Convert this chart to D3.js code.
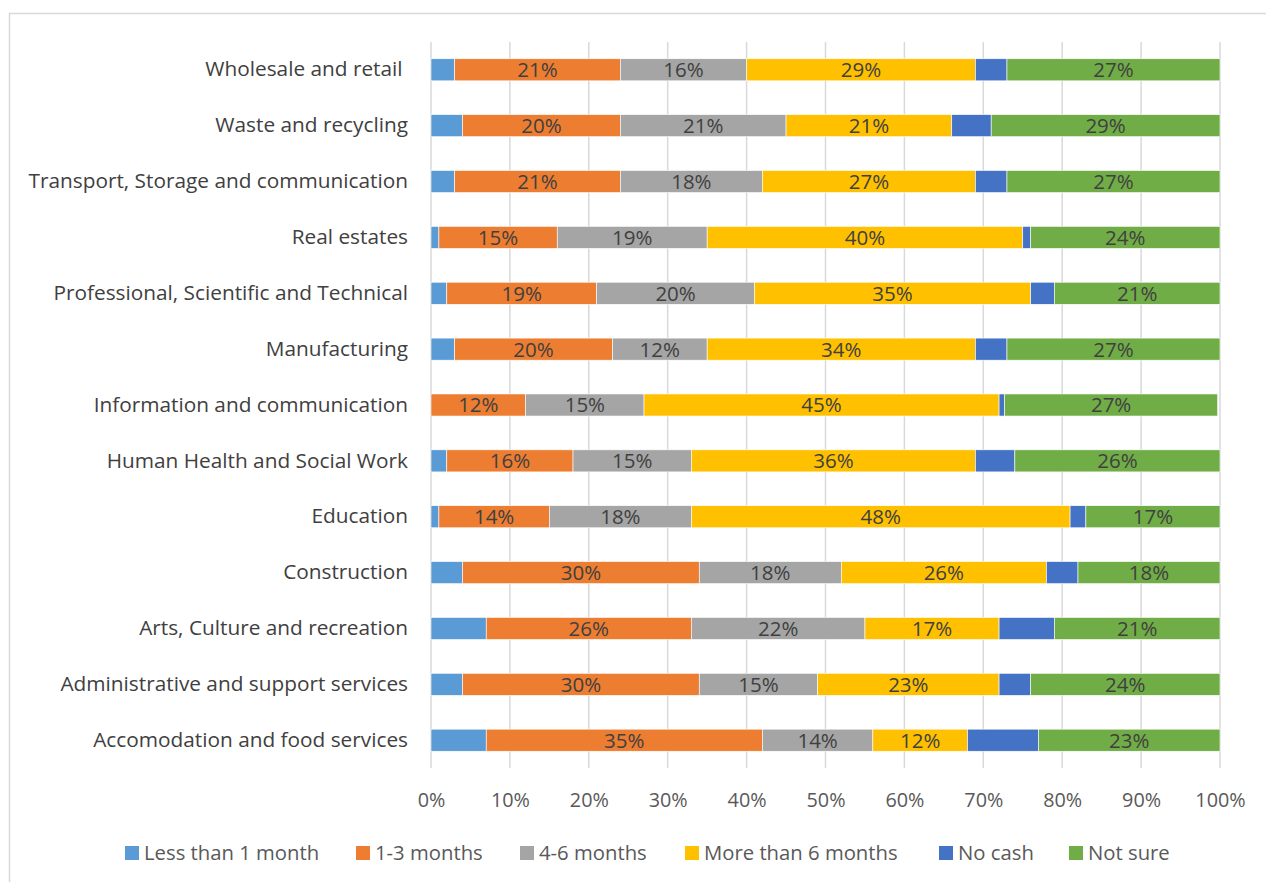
<!DOCTYPE html>
<html>
<head>
<meta charset="utf-8">
<script src="https://cdn.jsdelivr.net/npm/d3@7"></script>
<style>
  html, body { margin: 0; padding: 0; background: #fff; }
  svg { display: block; }
  text { font-family: "Open Sans", "Noto Sans", sans-serif; }
</style>
</head>
<body>
<svg id="chart" width="1266" height="882"></svg>
<script>
// Sectors, listed top to bottom
const categories = [
  "Wholesale and retail ",
  "Waste and recycling",
  "Transport, Storage and communication",
  "Real estates",
  "Professional, Scientific and Technical",
  "Manufacturing",
  "Information and communication",
  "Human Health and Social Work",
  "Education",
  "Construction",
  "Arts, Culture and recreation",
  "Administrative and support services",
  "Accomodation and food services"
];

const seriesNames = ["Less than 1 month", "1-3 months", "4-6 months", "More than 6 months", "No cash", "Not sure"];

// Share of businesses (%) per sector, one array per series, same order as categories
const lessThan1Month = [3, 4, 3, 1, 2, 3, 0, 2, 1, 4, 7, 4, 7];
const oneToThree     = [21, 20, 21, 15, 19, 20, 12, 16, 14, 30, 26, 30, 35];
const fourToSix      = [16, 21, 18, 19, 20, 12, 15, 15, 18, 18, 22, 15, 14];
const moreThanSix    = [29, 21, 27, 40, 35, 34, 45, 36, 48, 26, 17, 23, 12];
const noCash         = [4, 5, 4, 1, 3, 4, 0.7, 5, 2, 4, 7, 4, 9];
const notSure        = [27, 29, 27, 24, 21, 27, 27, 26, 17, 18, 21, 24, 23];

const seriesValues = [lessThan1Month, oneToThree, fourToSix, moreThanSix, noCash, notSure];
const labelledSeries = [false, true, true, true, false, true];
const colors = ["#5b9bd5", "#ed7d31", "#a5a5a5", "#ffc000", "#4472c4", "#70ad47"];

const xTicks = [0, 10, 20, 30, 40, 50, 60, 70, 80, 90, 100];

const FONT = "'Open Sans', 'Noto Sans', sans-serif";
const svg = d3.select("#chart");

// Chart frame
svg.append("rect")
  .attr("x", 9.5).attr("y", 13.5)
  .attr("width", 1262).attr("height", 880)
  .attr("fill", "#fff")
  .attr("stroke", "#d9d9d9").attr("stroke-width", 1.5);

const plot = { left: 431, right: 1220, top: 42, bottom: 768 };

const x = d3.scaleLinear().domain([0, 100]).range([plot.left, plot.right]);
const y = d3.scaleBand().domain(categories).range([plot.top, plot.bottom]).paddingInner(0.605).paddingOuter(0.3);

// Vertical gridlines
svg.append("g")
  .selectAll("line")
  .data(xTicks)
  .join("line")
  .attr("x1", d => x(d)).attr("x2", d => x(d))
  .attr("y1", plot.top).attr("y2", plot.bottom)
  .attr("stroke", "#d9d9d9").attr("stroke-width", 1.5);

// X axis tick labels
const xAxis = d3.axisBottom(x).tickValues(xTicks).tickFormat(d => d + "%").tickSize(0).tickPadding(0);
const gx = svg.append("g")
  .attr("transform", `translate(0,${plot.bottom + 39})`)
  .call(xAxis);
gx.select(".domain").remove();
gx.selectAll("text")
  .attr("dy", 0)
  .attr("font-family", FONT)
  .attr("font-size", 19.8).attr("fill", "#595959");

// Category labels
const yAxis = d3.axisLeft(y).tickSize(0).tickPadding(23);
const gy = svg.append("g")
  .attr("transform", `translate(${plot.left},0)`)
  .call(yAxis);
gy.select(".domain").remove();
gy.selectAll("text")
  .style("white-space", "pre")
  .attr("font-family", FONT)
  .attr("font-size", 20.8).attr("fill", "#404040");

// Stack the series
const rows = categories.map((c, i) => {
  const r = { category: c };
  seriesNames.forEach((s, j) => { r[s] = seriesValues[j][i]; });
  return r;
});
const stacked = d3.stack().keys(seriesNames)(rows);

const layers = svg.append("g")
  .selectAll("g")
  .data(stacked)
  .join("g")
  .attr("fill", (d, i) => colors[i]);

layers.selectAll("rect")
  .data(d => d)
  .join("rect")
  .attr("x", d => x(d[0]))
  .attr("y", d => y(d.data.category))
  .attr("width", d => x(d[1]) - x(d[0]))
  .attr("height", y.bandwidth())
  .attr("stroke", "#fff").attr("stroke-width", 0.6);

// Value labels on the larger segments
stacked.forEach((layer, i) => {
  if (!labelledSeries[i]) return;
  svg.append("g")
    .selectAll("text")
    .data(layer)
    .join("text")
    .attr("x", d => (x(d[0]) + x(d[1])) / 2)
    .attr("y", d => y(d.data.category) + y.bandwidth() / 2)
    .attr("dy", "0.36em")
    .attr("text-anchor", "middle")
    .attr("font-size", 20.5)
    .attr("fill", "#404040")
    .text(d => Math.round(d[1] - d[0]) + "%");
});

// Legend
const legendX = [125, 356, 520, 685, 939, 1069];
const legend = svg.append("g")
  .selectAll("g")
  .data(seriesNames)
  .join("g")
  .attr("transform", (d, i) => `translate(${legendX[i]},853)`);
legend.append("rect")
  .attr("x", 0).attr("y", -7)
  .attr("width", 14).attr("height", 14)
  .attr("fill", (d, i) => colors[i]);
legend.append("text")
  .attr("x", 19).attr("y", 0).attr("dy", "0.36em")
  .attr("font-size", 20.3).attr("fill", "#595959")
  .text(d => d);
</script>
</body>
</html>
